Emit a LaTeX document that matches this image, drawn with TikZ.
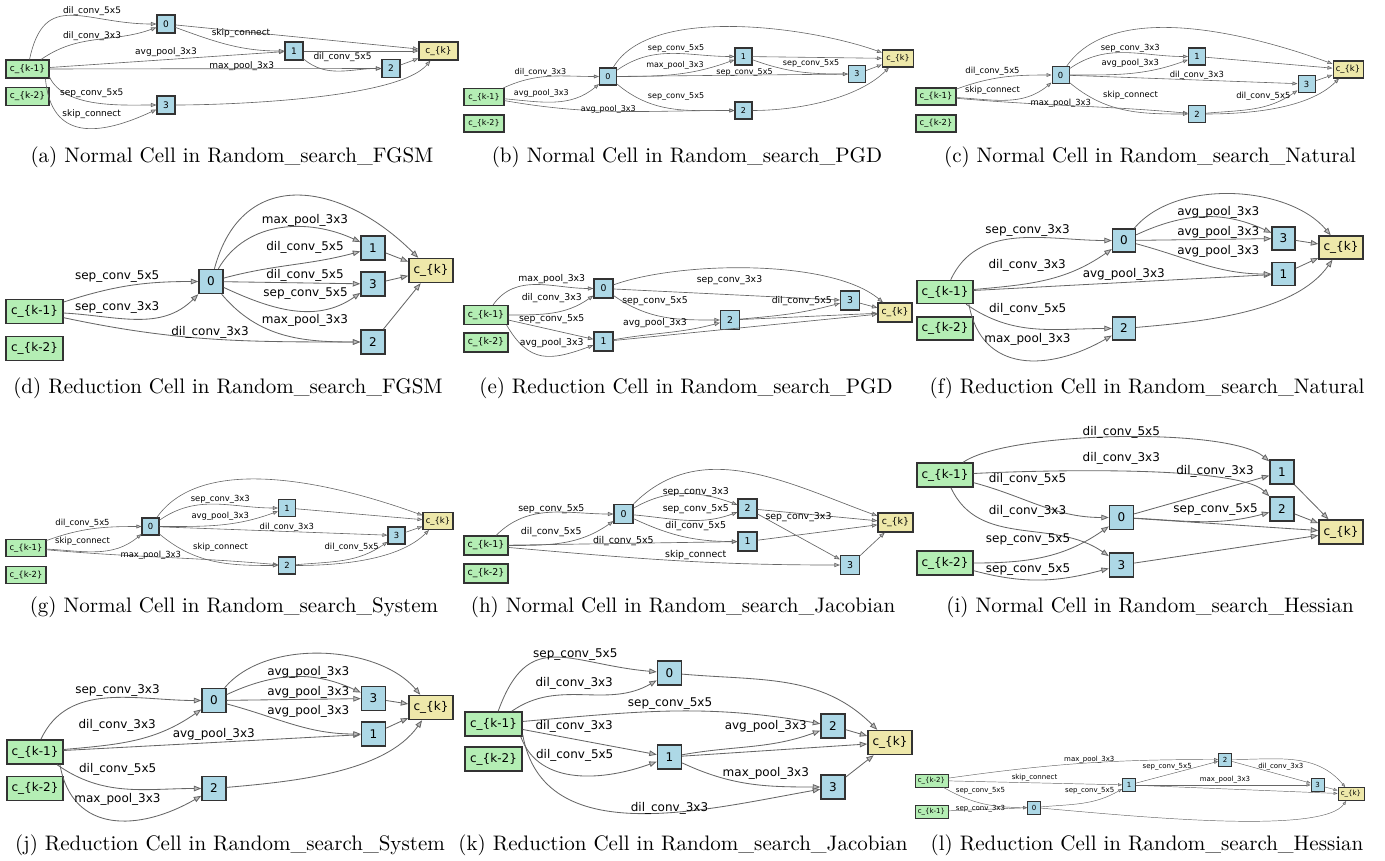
\documentclass[tikz,border=0pt]{standalone}
\usepackage{fontspec}
\newfontfamily\dvs{DejaVu Sans}
\newfontfamily\capfont{lmroman10-regular.otf}
\usetikzlibrary{arrows.meta}
\definecolor{cellgreen}{HTML}{B4EEB4}
\definecolor{cellblue}{HTML}{ADD8E6}
\definecolor{cellgold}{HTML}{EEE8AA}
\tikzset{
  cellbox/.style={draw=black!80, line width=0.06*\nht, minimum height=\nht, inner sep=0pt, font=\dvs\fontsize{\fsz}{\fsz}\selectfont},
  inp/.style={cellbox, fill=cellgreen, minimum width=\inw},
  inter/.style={cellbox, fill=cellblue, minimum width=\nht},
  outp/.style={cellbox, fill=cellgold, minimum width=\outw},
  link/.style={draw=black!60, line width=0.035*\nht, -{Triangle[length=\tipl, width'=0pt .75, fill=black!25]}},
  lbl/.style={font=\dvs\fontsize{\fsz}{\fsz}\selectfont, inner sep=0pt},
  captxt/.style={font=\capfont\fontsize{21}{24}\selectfont, inner sep=0pt},
}

\begin{document}
\begin{tikzpicture}[x=1pt, y=1pt]
\useasboundingbox (0,0) rectangle (1385,-861);

\def\fsz{9}\def\nht{18}\def\inw{43}\def\outw{39}\def\tipl{5.5pt}
\node[inp] (aP) at (27.5,-69) {c\_\{k-1\}};
\node[inp] (aQ) at (27.5,-96.5) {c\_\{k-2\}};
\node[inter] (a0) at (166,-24) {0};
\node[inter] (a1) at (294,-51) {1};
\node[inter] (a2) at (391,-68.5) {2};
\node[inter] (a3) at (166,-105) {3};
\node[outp] (aK) at (438.5,-51) {c\_\{k\}};
\draw[link] (aP) to[out=78,in=180,looseness=1.4] (a0);
\draw[link] (aP) to[out=35,in=200] (a0);
\draw[link] (aP) -- (a1);
\draw[link] (aP) -- (a2);
\draw[link] (aP.-20) to[out=-65,in=180,looseness=0.8] (a3);
\draw[link] (aP.-28) to[out=-85,in=205,looseness=1.4] (a3);
\draw[link] (a0) to[out=-20,in=180] (a1);
\draw[link] (a1) to[out=-40,in=180] (a2);
\draw[link] (a0) -- (aK);
\draw[link] (a1) -- (aK);
\draw[link] (a2) -- (aK);
\draw[link] (a3) to[out=0,in=230,looseness=0.5] (aK);
\node[lbl] (aL1) at (92,-10.7) {dil\_conv\_5x5};
\node[lbl] (aL2) at (92,-35.8) {dil\_conv\_3x3};
\node[lbl] (aL3) at (166,-52.5) {avg\_pool\_3x3};
\node[lbl] (aL4) at (241.7,-66) {max\_pool\_3x3};
\node[lbl] (aL5) at (91.8,-93.3) {sep\_conv\_5x5};
\node[lbl] (aL6) at (91.7,-114.3) {skip\_connect};
\node[lbl] (aL7) at (241,-33.5) {skip\_connect};
\node[lbl] (aL8) at (342.5,-56.8) {dil\_conv\_5x5};
\node[captxt] (aC) at (232,-157) {(a) Normal Cell in Random\_search\_FGSM};

\def\fsz{8}\def\nht{17}\def\inw{40}\def\outw{31}\def\tipl{5pt}
\node[inp] (bP) at (484,-97) {c\_\{k-1\}};
\node[inp] (bQ) at (484,-123.5) {c\_\{k-2\}};
\node[inter] (b0) at (608,-76.5) {0};
\node[inter] (b1) at (743.5,-56.5) {1};
\node[inter] (b2) at (743.5,-110.5) {2};
\node[inter] (b3) at (857,-74) {3};
\node[outp] (bK) at (898,-58.5) {c\_\{k\}};
\draw[link] (bP) to[out=25,in=180] (b0);
\draw[link] (bP) to[out=-5,in=220] (b0);
\draw[link] (bP) to[out=-10,in=180] (b2);
\draw[link] (b0) to[out=35,in=180] (b1);
\draw[link] (b0) to[out=0,in=200] (b1);
\draw[link] (b0) -- (b3);
\draw[link] (b1) to[out=-20,in=180] (b3);
\draw[link] (b0) to[out=-40,in=180] (b2);
\draw[link] (b0) to[out=60,in=160,looseness=0.7] (bK);
\draw[link] (b1) -- (bK);
\draw[link] (b3) -- (bK);
\draw[link] (b2) to[out=0,in=225,looseness=0.8] (bK);
\node[lbl] (bL1) at (540.5,-72.5) {dil\_conv\_3x3};
\node[lbl] (bL2) at (541.3,-93.8) {avg\_pool\_3x3};
\node[lbl] (bL3) at (608.3,-109) {avg\_pool\_3x3};
\node[lbl] (bL4) at (676,-48.3) {sep\_conv\_5x5};
\node[lbl] (bL5) at (675,-65.8) {max\_pool\_3x3};
\node[lbl] (bL6) at (744.5,-72.8) {sep\_conv\_5x5};
\node[lbl] (bL7) at (811,-64) {sep\_conv\_5x5};
\node[lbl] (bL8) at (676,-97) {sep\_conv\_5x5};
\node[captxt] (bC) at (687,-157) {(b) Normal Cell in Random\_search\_PGD};

\def\fsz{8.4}\def\nht{17}\def\inw{40}\def\outw{30}\def\tipl{5pt}
\node[inp] (cP) at (936,-96.5) {c\_\{k-1\}};
\node[inp] (cQ) at (936,-123.5) {c\_\{k-2\}};
\node[inter] (c0) at (1060.5,-75) {0};
\node[inter] (c1) at (1197,-56.5) {1};
\node[inter] (c2) at (1197,-114) {2};
\node[inter] (c3) at (1306.5,-84) {3};
\node[outp] (cK) at (1348,-69.5) {c\_\{k\}};
\draw[link] (cP) to[out=20,in=180] (c0);
\draw[link] (cP) to[out=-3,in=220] (c0);
\draw[link] (cP) to[out=-5,in=175] (c2);
\draw[link] (c0) to[out=35,in=180] (c1);
\draw[link] (c0) to[out=0,in=200] (c1);
\draw[link] (c0) -- (c3);
\draw[link] (c0) to[out=-40,in=180] (c2);
\draw[link] (c2) to[out=5,in=215] (c3);
\draw[link] (c0) to[out=55,in=160,looseness=0.8] (cK);
\draw[link] (c1) -- (cK);
\draw[link] (c3) -- (cK);
\draw[link] (c2) to[out=0,in=225,looseness=0.8] (cK);
\node[lbl] (cL1) at (992.5,-71) {dil\_conv\_5x5};
\node[lbl] (cL2) at (992.5,-90) {skip\_connect};
\node[lbl] (cL3) at (1060.8,-103.7) {max\_pool\_3x3};
\node[lbl] (cL4) at (1130.3,-48) {sep\_conv\_3x3};
\node[lbl] (cL5) at (1130.3,-63.8) {avg\_pool\_3x3};
\node[lbl] (cL6) at (1196.8,-75.3) {dil\_conv\_3x3};
\node[lbl] (cL7) at (1130.5,-95.5) {skip\_connect};
\node[lbl] (cL8) at (1263.3,-96.2) {dil\_conv\_5x5};
\node[captxt] (cC) at (1150,-157) {(c) Normal Cell in Random\_search\_Natural};

\def\fsz{12}\def\nht{24}\def\inw{57}\def\outw{44}\def\tipl{7.5pt}
\node[inp] (dP) at (34.5,-311.5) {c\_\{k-1\}};
\node[inp] (dQ) at (34.5,-348.5) {c\_\{k-2\}};
\node[inter] (d0) at (211,-281.5) {0};
\node[inter] (d1) at (373,-248) {1};
\node[inter] (d2) at (373,-342) {2};
\node[inter] (d3) at (373,-284) {3};
\node[outp] (dK) at (431,-270.5) {c\_\{k\}};
\draw[link] (dP) to[out=18,in=180] (d0);
\draw[link] (dP) to[out=-3,in=225] (d0);
\draw[link] (dP) to[out=-12,in=180] (d2);
\draw[link] (d0) to[out=60,in=155] (d1);
\draw[link] (d0) to[out=15,in=195] (d1);
\draw[link] (d0) -- (d3);
\draw[link] (d0) to[out=-25,in=215] (d3);
\draw[link] (d0) to[out=-50,in=180] (d2);
\draw[link] (d0) to[out=75,in=135,looseness=1.35] (dK);
\draw[link] (d1) -- (dK);
\draw[link] (d3) -- (dK);
\draw[link] (d2) -- (dK);
\node[lbl] (dL1) at (117.2,-276.7) {sep\_conv\_5x5};
\node[lbl] (dL2) at (117.2,-307.2) {sep\_conv\_3x3};
\node[lbl] (dL3) at (210,-332.8) {dil\_conv\_3x3};
\node[lbl] (dL4) at (305,-220) {max\_pool\_3x3};
\node[lbl] (dL5) at (305,-247.5) {dil\_conv\_5x5};
\node[lbl] (dL6) at (305,-275.8) {dil\_conv\_5x5};
\node[lbl] (dL7) at (305.5,-293.8) {sep\_conv\_5x5};
\node[lbl] (dL8) at (305,-320.5) {max\_pool\_3x3};
\node[captxt] (dC) at (228,-388) {(d) Reduction Cell in Random\_search\_FGSM};

\def\fsz{9.3}\def\nht{19}\def\inw{44}\def\outw{34}\def\tipl{5.5pt}
\node[inp] (eP) at (486,-315) {c\_\{k-1\}};
\node[inp] (eQ) at (486,-342.5) {c\_\{k-2\}};
\node[inter] (e0) at (603.5,-288.5) {0};
\node[inter] (e1) at (603.5,-341.5) {1};
\node[inter] (e2) at (730,-320) {2};
\node[inter] (e3) at (850,-300.5) {3};
\node[outp] (eK) at (895,-312.5) {c\_\{k\}};
\draw[link] (eP) to[out=55,in=180] (e0);
\draw[link] (eP) to[out=0,in=215] (e0);
\draw[link] (eP) -- (e1);
\draw[link] (eP.-26) to[out=-60,in=200,looseness=1.3] (e1);
\draw[link] (e0) -- (e3);
\draw[link] (e0) to[out=-35,in=180] (e2);
\draw[link] (e1) to[out=10,in=195] (e2);
\draw[link] (e2) to[out=5,in=195] (e3);
\draw[link] (e0) to[out=20,in=140,looseness=0.65] (eK);
\draw[link] (e3) -- (eK);
\draw[link] (e2) -- (eK);
\draw[link] (e1) -- (eK);
\node[lbl] (eL1) at (551.7,-278.8) {max\_pool\_3x3};
\node[lbl] (eL2) at (551.7,-298) {dil\_conv\_3x3};
\node[lbl] (eL3) at (551.7,-319.3) {sep\_conv\_5x5};
\node[lbl] (eL4) at (551.7,-343.3) {avg\_pool\_3x3};
\node[lbl] (eL5) at (729.5,-279.7) {sep\_conv\_3x3};
\node[lbl] (eL6) at (655,-301.3) {sep\_conv\_5x5};
\node[lbl] (eL7) at (655,-323) {avg\_pool\_3x3};
\node[lbl] (eL8) at (801.7,-300.7) {dil\_conv\_5x5};
\node[captxt] (eC) at (686,-388) {(e) Reduction Cell in Random\_search\_PGD};

\def\fsz{12}\def\nht{23}\def\inw{56}\def\outw{44}\def\tipl{7.5pt}
\node[inp] (fP) at (945,-292) {c\_\{k-1\}};
\node[inp] (fQ) at (945,-328.5) {c\_\{k-2\}};
\node[inter] (f0) at (1124,-240.5) {0};
\node[inter] (f1) at (1283.5,-274) {1};
\node[inter] (f2) at (1124,-328.5) {2};
\node[inter] (f3) at (1283.5,-238.5) {3};
\node[outp] (fK) at (1341,-247.5) {c\_\{k\}};
\draw[link] (fP) to[out=65,in=180] (f0);
\draw[link] (fP) to[out=5,in=215] (f0);
\draw[link] (fP) -- (f1);
\draw[link] (fP.-30) to[out=-35,in=180] (f2);
\draw[link] (fP.-27) to[out=-80,in=210,looseness=1.25] (f2);
\draw[link] (f0) to[out=25,in=155] (f3);
\draw[link] (f0) -- (f3);
\draw[link] (f0) to[out=-15,in=180] (f1);
\draw[link] (f0) to[out=50,in=130,looseness=0.85] (fK);
\draw[link] (f3) -- (fK);
\draw[link] (f1) -- (fK);
\draw[link] (f2) to[out=5,in=235,looseness=0.8] (fK);
\node[lbl] (fL1) at (1027.5,-230.8) {sep\_conv\_3x3};
\node[lbl] (fL2) at (1027.2,-265) {dil\_conv\_3x3};
\node[lbl] (fL3) at (1123.8,-274.2) {avg\_pool\_3x3};
\node[lbl] (fL4) at (1027.7,-309.2) {dil\_conv\_5x5};
\node[lbl] (fL5) at (1027.5,-339.5) {max\_pool\_3x3};
\node[lbl] (fL6) at (1218.3,-212.8) {avg\_pool\_3x3};
\node[lbl] (fL7) at (1218.3,-232.8) {avg\_pool\_3x3};
\node[lbl] (fL8) at (1218.3,-251.7) {avg\_pool\_3x3};
\node[captxt] (fC) at (1147,-388) {(f) Reduction Cell in Random\_search\_Natural};

\def\fsz{8.4}\def\nht{17}\def\inw{40}\def\outw{30}\def\tipl{5pt}
\node[inp] (gP) at (26,-548) {c\_\{k-1\}};
\node[inp] (gQ) at (26,-575) {c\_\{k-2\}};
\node[inter] (g0) at (150.5,-526.5) {0};
\node[inter] (g1) at (287,-508) {1};
\node[inter] (g2) at (287,-565.5) {2};
\node[inter] (g3) at (396.5,-535.5) {3};
\node[outp] (gK) at (438,-521) {c\_\{k\}};
\draw[link] (gP) to[out=20,in=180] (g0);
\draw[link] (gP) to[out=-3,in=220] (g0);
\draw[link] (gP) to[out=-5,in=175] (g2);
\draw[link] (g0) to[out=35,in=180] (g1);
\draw[link] (g0) to[out=0,in=200] (g1);
\draw[link] (g0) -- (g3);
\draw[link] (g0) to[out=-40,in=180] (g2);
\draw[link] (g2) to[out=5,in=215] (g3);
\draw[link] (g0) to[out=55,in=160,looseness=0.8] (gK);
\draw[link] (g1) -- (gK);
\draw[link] (g3) -- (gK);
\draw[link] (g2) to[out=0,in=225,looseness=0.8] (gK);
\node[lbl] (gL1) at (82.5,-523) {dil\_conv\_5x5};
\node[lbl] (gL2) at (82.5,-541.7) {skip\_connect};
\node[lbl] (gL3) at (150.8,-555.3) {max\_pool\_3x3};
\node[lbl] (gL4) at (220.3,-499.7) {sep\_conv\_3x3};
\node[lbl] (gL5) at (220.3,-515.8) {avg\_pool\_3x3};
\node[lbl] (gL6) at (286.8,-527) {dil\_conv\_3x3};
\node[lbl] (gL7) at (220.5,-547.3) {skip\_connect};
\node[lbl] (gL8) at (351.7,-547.5) {dil\_conv\_5x5};
\node[captxt] (gC) at (234,-607) {(g) Normal Cell in Random\_search\_System};

\def\fsz{9.4}\def\nht{19}\def\inw{44}\def\outw{35}\def\tipl{5.5pt}
\node[inp] (hP) at (486,-545.5) {c\_\{k-1\}};
\node[inp] (hQ) at (486,-573.5) {c\_\{k-2\}};
\node[inter] (h0) at (623.5,-514) {0};
\node[inter] (h1) at (747.5,-541.5) {1};
\node[inter] (h2) at (747.5,-508.5) {2};
\node[inter] (h3) at (850,-565) {3};
\node[outp] (hK) at (895.5,-522.5) {c\_\{k\}};
\draw[link] (hP) to[out=45,in=180] (h0);
\draw[link] (hP) to[out=0,in=215] (h0);
\draw[link] (hP) -- (h1);
\draw[link] (hP) to[out=-5,in=180] (h3);
\draw[link] (h0) to[out=30,in=160] (h2);
\draw[link] (h0) to[out=-5,in=200] (h2);
\draw[link] (h0) to[out=-25,in=180] (h1);
\draw[link] (h2) -- (h3);
\draw[link] (h0) to[out=45,in=160] (hK);
\draw[link] (h2) -- (hK);
\draw[link] (h1) -- (hK);
\draw[link] (h3) -- (hK);
\node[lbl] (hL1) at (551.3,-508.7) {sep\_conv\_5x5};
\node[lbl] (hL2) at (551.2,-532) {dil\_conv\_5x5};
\node[lbl] (hL3) at (623.3,-541.3) {dil\_conv\_5x5};
\node[lbl] (hL4) at (695.7,-555.3) {skip\_connect};
\node[lbl] (hL5) at (695.8,-492.3) {sep\_conv\_3x3};
\node[lbl] (hL6) at (695.8,-508.7) {sep\_conv\_5x5};
\node[lbl] (hL7) at (695.7,-525.7) {dil\_conv\_5x5};
\node[lbl] (hL8) at (798.5,-517.3) {sep\_conv\_3x3};
\node[captxt] (hC) at (683,-607) {(h) Normal Cell in Random\_search\_Jacobian};

\def\fsz{12}\def\nht{24}\def\inw{56}\def\outw{44}\def\tipl{7.5pt}
\node[inp] (iP) at (945,-475) {c\_\{k-1\}};
\node[inp] (iQ) at (945,-563) {c\_\{k-2\}};
\node[inter] (i0) at (1121.5,-517.5) {0};
\node[inter] (i1) at (1282,-472) {1};
\node[inter] (i2) at (1282,-509) {2};
\node[inter] (i3) at (1121.5,-565) {3};
\node[outp] (iK) at (1341,-532) {c\_\{k\}};
\draw[link] (iP) to[out=35,in=140,looseness=0.45] (i1);
\draw[link] (iP) to[out=3,in=135,looseness=0.4] (i2);
\draw[link] (iP) to[out=-15,in=180] (i0);
\draw[link] (iP) to[out=-65,in=145] (i3);
\draw[link] (iQ) to[out=0,in=215] (i0);
\draw[link] (iQ) to[out=-15,in=195] (i3);
\draw[link] (i0) -- (i1);
\draw[link] (i0) to[out=-3,in=195] (i2);
\draw[link] (i0) -- (iK);
\draw[link] (i1) -- (iK);
\draw[link] (i2) -- (iK);
\draw[link] (i3) -- (iK);
\node[lbl] (iL1) at (1121.3,-432.5) {dil\_conv\_5x5};
\node[lbl] (iL2) at (1121.3,-458.2) {dil\_conv\_3x3};
\node[lbl] (iL3) at (1027.5,-479.8) {dil\_conv\_5x5};
\node[lbl] (iL4) at (1027.5,-511.5) {dil\_conv\_3x3};
\node[lbl] (iL5) at (1028,-539.2) {sep\_conv\_5x5};
\node[lbl] (iL6) at (1028,-569.8) {sep\_conv\_5x5};
\node[lbl] (iL7) at (1215,-471.8) {dil\_conv\_3x3};
\node[lbl] (iL8) at (1215.5,-509.2) {sep\_conv\_5x5};
\node[captxt] (iC) at (1150,-607) {(i) Normal Cell in Random\_search\_Hessian};

\def\fsz{12}\def\nht{24}\def\inw{56}\def\outw{44}\def\tipl{7.5pt}
\node[inp] (jP) at (35,-752) {c\_\{k-1\}};
\node[inp] (jQ) at (35,-788.5) {c\_\{k-2\}};
\node[inter] (j0) at (214,-700.5) {0};
\node[inter] (j1) at (373.5,-734) {1};
\node[inter] (j2) at (214,-788.5) {2};
\node[inter] (j3) at (373.5,-698.5) {3};
\node[outp] (jK) at (431,-707.5) {c\_\{k\}};
\draw[link] (jP) to[out=65,in=180] (j0);
\draw[link] (jP) to[out=5,in=215] (j0);
\draw[link] (jP) -- (j1);
\draw[link] (jP.-30) to[out=-35,in=180] (j2);
\draw[link] (jP.-27) to[out=-80,in=210,looseness=1.25] (j2);
\draw[link] (j0) to[out=25,in=155] (j3);
\draw[link] (j0) -- (j3);
\draw[link] (j0) to[out=-15,in=180] (j1);
\draw[link] (j0) to[out=50,in=130,looseness=0.85] (jK);
\draw[link] (j3) -- (jK);
\draw[link] (j1) -- (jK);
\draw[link] (j2) to[out=5,in=235,looseness=0.8] (jK);
\node[lbl] (jL1) at (117.5,-690.8) {sep\_conv\_3x3};
\node[lbl] (jL2) at (117.2,-725) {dil\_conv\_3x3};
\node[lbl] (jL3) at (213.8,-734.2) {avg\_pool\_3x3};
\node[lbl] (jL4) at (117.7,-769.2) {dil\_conv\_5x5};
\node[lbl] (jL5) at (117.5,-799.5) {max\_pool\_3x3};
\node[lbl] (jL6) at (308.3,-672.8) {avg\_pool\_3x3};
\node[lbl] (jL7) at (308.3,-692.8) {avg\_pool\_3x3};
\node[lbl] (jL8) at (308.3,-711.7) {avg\_pool\_3x3};
\node[captxt] (jC) at (230,-845) {(j) Reduction Cell in Random\_search\_System};

\def\fsz{12}\def\nht{24}\def\inw{57}\def\outw{44}\def\tipl{7.5pt}
\node[inp] (kP) at (493.5,-724) {c\_\{k-1\}};
\node[inp] (kQ) at (493.5,-759) {c\_\{k-2\}};
\node[inter] (k0) at (669.5,-673) {0};
\node[inter] (k1) at (669.5,-757) {1};
\node[inter] (k2) at (833,-726) {2};
\node[inter] (k3) at (833,-787) {3};
\node[outp] (kK) at (890,-742.5) {c\_\{k\}};
\draw[link] (kP) to[out=70,in=175,looseness=1.4] (k0);
\draw[link] (kP) to[out=35,in=210] (k0);
\draw[link] (kP) to[out=5,in=170] (k2);
\draw[link] (kP) -- (k1);
\draw[link] (kP.-25) to[out=-70,in=200] (k1);
\draw[link] (kP.-20) to[out=-80,in=190] (k3);
\draw[link] (k1) to[out=10,in=200] (k2);
\draw[link] (k1) to[out=-25,in=180] (k3);
\draw[link] (k0) to[out=-5,in=135] (kK);
\draw[link] (k2) -- (kK);
\draw[link] (k1) -- (kK);
\draw[link] (k3) -- (kK);
\node[lbl] (kL1) at (575.3,-655) {sep\_conv\_5x5};
\node[lbl] (kL2) at (574.2,-683) {dil\_conv\_3x3};
\node[lbl] (kL3) at (670,-703.3) {sep\_conv\_5x5};
\node[lbl] (kL4) at (574.2,-726.5) {dil\_conv\_3x3};
\node[lbl] (kL5) at (574.7,-755.8) {dil\_conv\_5x5};
\node[lbl] (kL6) at (669.5,-808.8) {dil\_conv\_3x3};
\node[lbl] (kL7) at (765.8,-726.7) {avg\_pool\_3x3};
\node[lbl] (kL8) at (765.8,-773) {max\_pool\_3x3};
\node[captxt] (kC) at (683,-845) {(k) Reduction Cell in Random\_search\_Jacobian};

\def\fsz{7}\def\nht{13}\def\inw{33}\def\outw{26}\def\tipl{4pt}
\node[inp] (lQ) at (931.5,-780.5) {c\_\{k-2\}};
\node[inp] (lP) at (931.5,-811.5) {c\_\{k-1\}};
\node[inter] (l0) at (1034,-807.5) {0};
\node[inter] (l1) at (1129,-785) {1};
\node[inter] (l2) at (1225,-759.5) {2};
\node[inter] (l3) at (1317.5,-785) {3};
\node[outp] (lK) at (1351,-794) {c\_\{k\}};
\draw[link] (lQ) to[out=8,in=180] (l2);
\draw[link] (lQ) -- (l1);
\draw[link] (lQ) to[out=-30,in=180] (l0);
\draw[link] (lP) -- (l0);
\draw[link] (l0) to[out=5,in=210] (l1);
\draw[link] (l1) to[out=15,in=195] (l2);
\draw[link] (l2) -- (l3);
\draw[link] (l1) -- (l3);
\draw[link] (l2) to[out=0,in=130] (lK);
\draw[link] (l3) -- (lK);
\draw[link] (l1) -- (lK);
\draw[link] (l0) to[out=-5,in=235,out looseness=0.8,in looseness=0.35] (lK);
\node[lbl] (lL1) at (1089.3,-759.2) {max\_pool\_3x3};
\node[lbl] (lL2) at (1034.5,-777.7) {skip\_connect};
\node[lbl] (lL3) at (980.5,-791) {sep\_conv\_5x5};
\node[lbl] (lL4) at (980.5,-808.3) {sep\_conv\_3x3};
\node[lbl] (lL5) at (1089.7,-791) {sep\_conv\_5x5};
\node[lbl] (lL6) at (1167.2,-766.7) {sep\_conv\_5x5};
\node[lbl] (lL7) at (1280.8,-766.7) {dil\_conv\_3x3};
\node[lbl] (lL8) at (1225,-780) {max\_pool\_3x3};
\node[captxt] (lC) at (1147,-845) {(l) Reduction Cell in Random\_search\_Hessian};
\end{tikzpicture}
\end{document}
